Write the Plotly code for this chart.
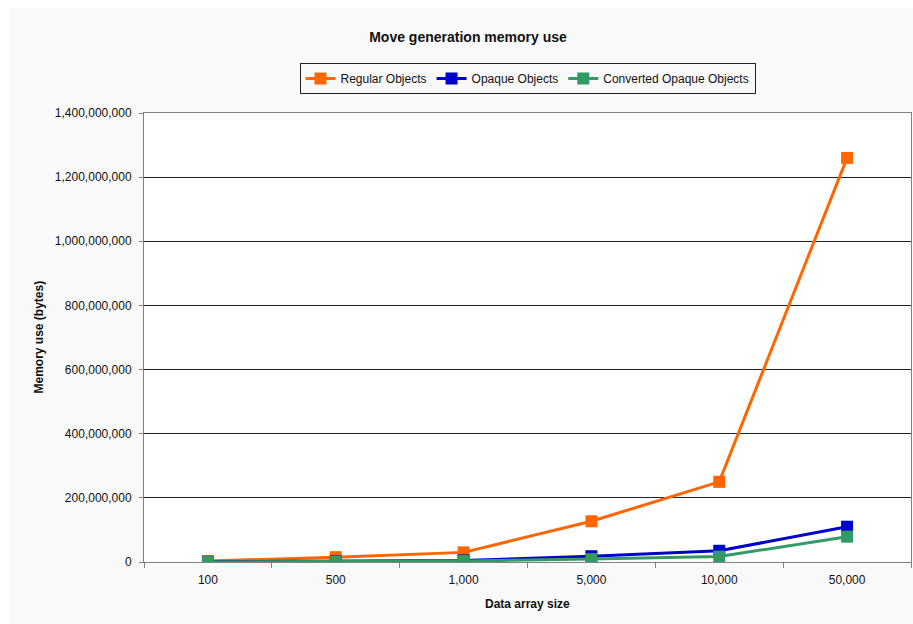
import plotly.graph_objects as go

# Data array sizes (category axis) and measured memory use in bytes
sizes = ["100", "500", "1,000", "5,000", "10,000", "50,000"]
regular_objects = [3e6, 15e6, 30e6, 127e6, 250e6, 1260e6]
opaque_objects = [0.6e6, 2.5e6, 5e6, 18e6, 35e6, 110e6]
converted_opaque_objects = [0.3e6, 1.5e6, 3e6, 9e6, 17e6, 79e6]

series = [
    ("Regular Objects", regular_objects, "#ff6600"),
    ("Opaque Objects", opaque_objects, "#0000cc"),
    ("Converted Opaque Objects", converted_opaque_objects, "#339966"),
]

FONT = "Arial, Liberation Sans, sans-serif"
W, H = 913, 624
L, R, T, B = 144, 2, 113, 62
PW, PH = W - L - R, H - T - B


def px_x(x):
    return (x - L) / PW


def px_y(y):
    return (H - B - y) / PH


fig = go.Figure()
for name, vals, color in series:
    fig.add_trace(go.Scatter(
        x=sizes, y=vals, name=name, mode="lines+markers",
        line=dict(color=color, width=3),
        marker=dict(symbol="square", size=12, color=color),
    ))

fig.update_layout(
    width=W, height=H,
    margin=dict(l=L, r=R, t=T, b=B),
    paper_bgcolor="white",
    plot_bgcolor="white",
    font=dict(family=FONT, size=12, color="#111"),
    showlegend=True,
    legend=dict(
        orientation="h", x=0.5, xanchor="center",
        y=px_y(78.5), yanchor="middle",
        bgcolor="#f9f9f9", bordercolor="#222", borderwidth=1,
        font=dict(family=FONT, size=12, color="#111"),
        itemwidth=30,
    ),
    title=dict(
        text="<b>Move generation memory use</b>",
        xref="container", yref="container",
        x=468 / W, y=1 - 37 / H, xanchor="center", yanchor="middle",
        font=dict(family=FONT, size=14, color="#111"),
    ),
    shapes=[
        # chart area background
        dict(type="rect", xref="paper", yref="paper", layer="below",
             x0=px_x(10), x1=px_x(W), y0=px_y(H), y1=px_y(8),
             fillcolor="#f9f9f9", line=dict(width=0)),
        # plot area
        dict(type="rect", xref="paper", yref="paper", layer="below",
             x0=0, x1=1, y0=0, y1=1,
             fillcolor="white", line=dict(width=0)),
    ],
    annotations=[
        dict(text="<b>Memory use (bytes)</b>", xref="paper", yref="paper",
             x=px_x(38), y=0.5, textangle=-90, showarrow=False,
             xanchor="center", yanchor="middle",
             font=dict(family=FONT, size=12, color="#111")),
        dict(text="<b>Data array size</b>", xref="paper", yref="paper",
             x=0.5, y=px_y(604), showarrow=False,
             xanchor="center", yanchor="middle",
             font=dict(family=FONT, size=12, color="#111")),
    ],
)

fig.update_xaxes(
    type="category", range=[-0.5, 5.5],
    showgrid=False, zeroline=False,
    showline=True, linecolor="#808080", linewidth=1, mirror=True,
    ticks="outside", tickson="boundaries", ticklen=5, tickcolor="#808080",
    ticklabelstandoff=7,
    tickfont=dict(family=FONT, size=12, color="#111"),
)
fig.update_yaxes(
    range=[0, 1.4e9], dtick=2e8, tickformat=",d",
    showgrid=True, gridcolor="#222", gridwidth=1, zeroline=False,
    showline=True, linecolor="#808080", linewidth=1, mirror=True,
    ticks="outside", ticklen=4, tickcolor="#808080",
    ticklabelstandoff=5,
    tickfont=dict(family=FONT, size=12, color="#111"),
)

fig.write_html("out.html")
